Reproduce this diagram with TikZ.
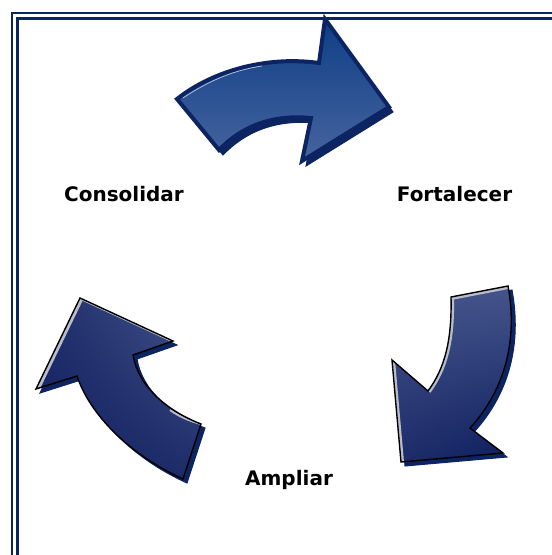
\documentclass[tikz,border=0pt]{standalone}
\usepackage{fontspec}
\usetikzlibrary{shadings}
\newfontfamily\lblfamily{DejaVu Sans}
\definecolor{navy}{HTML}{0C2461}
\definecolor{topfillA}{HTML}{0F3E86}
\definecolor{topfillB}{HTML}{46649E}
\definecolor{darkfill}{HTML}{0D1D5E}
\definecolor{midfill}{HTML}{1E2D6A}
\definecolor{lightfill}{HTML}{45558B}
\definecolor{hilite}{HTML}{B9BDCB}
\definecolor{tophilite}{HTML}{A9BCDD}
\tikzset{
  frameline/.style={draw=navy, line width=2.6pt},
  shadowfill/.style={fill=navy, draw=navy, line width=1pt, line join=miter},
  topbody/.style={draw=navy, line width=4pt, line join=miter, top color=topfillA, bottom color=topfillB},
  lowoutline/.style={draw=black, line width=1.4pt, line join=miter},
  lbl/.style={font=\lblfamily\bfseries\fontsize{20}{24}\selectfont, anchor=base, inner sep=0pt, text=black}
}
\begin{document}
\begin{tikzpicture}[x=1pt,y=-1pt]
\useasboundingbox (0,0) rectangle (552,555);
\fill[white] (0,0) rectangle (552,555);
% frame (continues beyond right and bottom edges)
\draw[frameline] (12,600) -- (12,13) -- (600,13);
\draw[frameline] (17.5,600) -- (17.5,18.3) -- (600,18.3);

% ---------- top arrow ----------
\path[shadowfill, shift={(4,5)}] (177,99) .. controls (215,69) and (270,56) .. (319,63) -- (325,19) -- (389,107) -- (302,161) -- (311,118) .. controls (270,114) and (240,128) .. (219,150) -- cycle;
\path[topbody] (177,99) .. controls (215,69) and (270,56) .. (319,63) -- (325,19) -- (389,107) -- (302,161) -- (311,118) .. controls (270,114) and (240,128) .. (219,150) -- cycle;
\draw[tophilite, line width=0.8pt] (183,98) .. controls (210,80) and (235,70) .. (262,66);

% ---------- right arrow ----------
\path[shadowfill, shift={(4,4)}] (451,297) -- (508,286) .. controls (518,340) and (505,390) .. (470,428) -- (503,453) -- (401,462) -- (392,360) -- (428,391) .. controls (445,368) and (452,340) .. (451,297) -- cycle;
\shade[upper left=lightfill, upper right=lightfill, lower left=midfill, lower right=darkfill] (451,297) -- (508,286) .. controls (518,340) and (505,390) .. (470,428) -- (503,453) -- (401,462) -- (392,360) -- (428,391) .. controls (445,368) and (452,340) .. (451,297) -- cycle;
\begin{scope}
  \clip (451,297) -- (508,286) .. controls (518,340) and (505,390) .. (470,428) -- (503,453) -- (401,462) -- (392,360) -- (428,391) .. controls (445,368) and (452,340) .. (451,297) -- cycle;
  \draw[hilite, line width=6pt] (508,286) -- (451,297) .. controls (452,340) and (445,368) .. (428,391);
  \draw[hilite, line width=6pt] (392,360) -- (401,462);
\end{scope}
\path[lowoutline] (451,297) -- (508,286) .. controls (518,340) and (505,390) .. (470,428) -- (503,453) -- (401,462) -- (392,360) -- (428,391) .. controls (445,368) and (452,340) .. (451,297) -- cycle;

% ---------- left arrow ----------
\path[shadowfill, shift={(4,4)}] (80,298) -- (173,341) -- (133,355) .. controls (138,385) and (165,410) .. (201,424) -- (183,479) .. controls (130,455) and (90,415) .. (77,376) -- (36,389) -- cycle;
\shade[upper left=midfill, upper right=lightfill, lower left=darkfill, lower right=midfill] (80,298) -- (173,341) -- (133,355) .. controls (138,385) and (165,410) .. (201,424) -- (183,479) .. controls (130,455) and (90,415) .. (77,376) -- (36,389) -- cycle;
\begin{scope}
  \clip (80,298) -- (173,341) -- (133,355) .. controls (138,385) and (165,410) .. (201,424) -- (183,479) .. controls (130,455) and (90,415) .. (77,376) -- (36,389) -- cycle;
  \draw[hilite, line width=7pt] (36,389) -- (80,298);
  \draw[hilite, line width=3pt] (80,298) -- (173,341);
  \draw[hilite, line width=2pt] (170,410) .. controls (180,417) and (190,421) .. (201,424);
\end{scope}
\path[lowoutline] (80,298) -- (173,341) -- (133,355) .. controls (138,385) and (165,410) .. (201,424) -- (183,479) .. controls (130,455) and (90,415) .. (77,376) -- (36,389) -- cycle;

% ---------- labels ----------
\node[lbl] (consolidar) at (124,201) {Consolidar};
\node[lbl] (fortalecer) at (454.5,201) {Fortalecer};
\node[lbl] (ampliar) at (289,485) {Ampliar};
\end{tikzpicture}
\end{document}
